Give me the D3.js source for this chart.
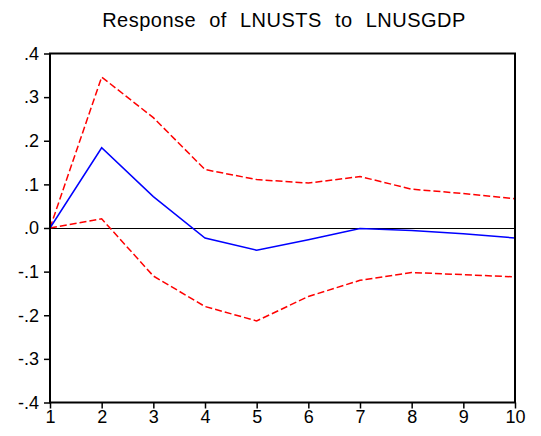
<!DOCTYPE html>
<html>
<head>
<meta charset="utf-8">
<script src="https://cdn.jsdelivr.net/npm/d3@7"></script>
<style>
  html, body { margin: 0; padding: 0; background: #fff; }
  svg { display: block; }
  text { font-family: "Liberation Sans", Arial, sans-serif; fill: #000; }
</style>
</head>
<body>
<svg id="chart" width="541" height="436"></svg>
<script>
// Impulse response horizon
const periods = [1, 2, 3, 4, 5, 6, 7, 8, 9, 10];
// Point estimate of the response
const response = [0.0, 0.184, 0.072, -0.023, -0.051, -0.027, -0.001, -0.006, -0.013, -0.023];
// Upper and lower ±2 S.E. bands
const upperBand = [0.0, 0.346, 0.253, 0.134, 0.111, 0.103, 0.118, 0.089, 0.079, 0.067];
const lowerBand = [0.0, 0.021, -0.110, -0.180, -0.213, -0.157, -0.120, -0.102, -0.107, -0.112];
// Axis ticks
const yTicks = [-0.4, -0.3, -0.2, -0.1, 0.0, 0.1, 0.2, 0.3, 0.4];
const yTickLabels = ["-.4", "-.3", "-.2", "-.1", ".0", ".1", ".2", ".3", ".4"];
const titleText = "Response of LNUSTS to LNUSGDP";

const svg = d3.select("#chart");
const margin = { left: 50, right: 26, top: 53.5, bottom: 33.5 };
const W = 541, H = 436;

const x = d3.scaleLinear().domain([1, 10]).range([margin.left, W - margin.right]);
const y = d3.scaleLinear().domain([-0.4, 0.4]).range([H - margin.bottom, margin.top]);

// Title
svg.append("text")
  .attr("x", 284).attr("y", 27)
  .attr("text-anchor", "middle")
  .style("font-size", "20px")
  .style("letter-spacing", "0.5px")
  .style("word-spacing", "7px")
  .text(titleText);

// Zero reference line (snapped to the pixel grid)
const y0 = Math.round(y(0)) + 0.5;
svg.append("line")
  .attr("x1", x(1)).attr("x2", x(10))
  .attr("y1", y0).attr("y2", y0)
  .attr("stroke", "#000").attr("stroke-width", 1);

const line = d3.line()
  .x((d, i) => x(periods[i]))
  .y(d => y(d));

// Confidence bands
[upperBand, lowerBand].forEach(band => {
  svg.append("path")
    .datum(band)
    .attr("d", line)
    .attr("fill", "none")
    .attr("stroke", "#ff0000")
    .attr("stroke-width", 1.5)
    .attr("stroke-dasharray", "7,3");
});

// Response
svg.append("path")
  .datum(response)
  .attr("d", line)
  .attr("fill", "none")
  .attr("stroke", "#0000ff")
  .attr("stroke-width", 1.5);

// Axes
const yAxis = d3.axisLeft(y)
  .tickValues(yTicks)
  .tickFormat((d, i) => yTickLabels[i])
  .tickSize(6).tickPadding(5);
const gy = svg.append("g")
  .attr("transform", `translate(${margin.left},0)`)
  .call(yAxis);

const xAxis = d3.axisBottom(x)
  .tickValues(periods)
  .tickFormat(d3.format("d"))
  .tickSize(6).tickPadding(2);
const gx = svg.append("g")
  .attr("transform", `translate(0,${H - margin.bottom})`)
  .call(xAxis);

[gx, gy].forEach(g => {
  g.select(".domain").remove();
  g.selectAll(".tick line").attr("stroke", "#000").attr("stroke-width", 1.5);
  g.selectAll(".tick text")
    .style("font-size", "18px")
    .style("font-family", "'Liberation Sans', Arial, sans-serif")
    .attr("fill", "#000");
});

// Plot frame
svg.append("rect")
  .attr("x", margin.left).attr("y", margin.top)
  .attr("width", x(10) - x(1)).attr("height", y(-0.4) - y(0.4))
  .attr("fill", "none")
  .attr("stroke", "#000")
  .attr("stroke-width", 2);
</script>
</body>
</html>
